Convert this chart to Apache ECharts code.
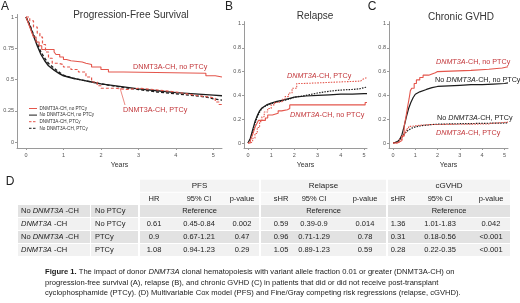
<!DOCTYPE html>
<html><head><meta charset="utf-8">
<script src="https://cdn.jsdelivr.net/npm/echarts@6/dist/echarts.min.js"></script>
<style>html,body{margin:0;padding:0;background:#fff}#c{width:520px;height:303px}</style>
</head><body><div id="c"></div>
<script>
// ---------- tick values ----------
const yearTicks = [0, 1, 2, 3, 4, 5];
const pfsTicks = [0, 0.25, 0.5, 0.75, 1];
const cifTicks = [0, 0.2, 0.4, 0.6, 0.8, 1];

// ---------- A: Progression-free survival ----------
const pfsDnmtNoPtcy = [[0,1],[0.05,0.96],[0.1,0.92],[0.15,0.88],[0.2,0.84],[0.27,0.8],[0.35,0.77],[0.42,0.74],[0.75,0.72],[0.8,0.7],[0.9,0.68],[1.0,0.66],[1.08,0.65],[1.2,0.64],[1.5,0.63],[1.6,0.62],[1.75,0.6],[2.0,0.58],[2.2,0.56],[2.6,0.55],[4.8,0.53],[5.05,0.52],[5.23,0.52]];
const pfsNoDnmtNoPtcy = [[0,1],[0.1,0.93],[0.2,0.85],[0.3,0.77],[0.4,0.7],[0.5,0.65],[0.6,0.61],[0.75,0.575],[0.9,0.545],[1.0,0.53],[1.25,0.51],[1.5,0.495],[1.75,0.48],[2.0,0.465],[2.5,0.445],[3.0,0.425],[3.5,0.41],[4.0,0.395],[4.5,0.385],[5.0,0.375],[5.23,0.37]];
const pfsDnmtPtcy = [[0,1],[0.1,0.97],[0.2,0.92],[0.3,0.87],[0.37,0.84],[0.44,0.78],[0.52,0.72],[0.6,0.67],[0.7,0.63],[0.85,0.62],[1.0,0.6],[1.2,0.58],[1.4,0.56],[1.6,0.52],[1.75,0.48],[1.9,0.45],[2.0,0.43],[2.4,0.42],[2.7,0.43],[3.0,0.42],[3.4,0.41],[3.7,0.4],[4.0,0.385],[4.3,0.37],[4.6,0.36],[4.9,0.35],[5.05,0.32],[5.15,0.3],[5.23,0.3]];
const pfsNoDnmtPtcy = [[0,1],[0.1,0.94],[0.2,0.86],[0.3,0.79],[0.4,0.72],[0.5,0.67],[0.6,0.63],[0.75,0.59],[0.9,0.555],[1.0,0.535],[1.25,0.51],[1.5,0.495],[1.75,0.48],[2.0,0.465],[2.5,0.44],[3.0,0.42],[3.5,0.4],[4.0,0.385],[4.5,0.37],[4.8,0.36],[5.0,0.345],[5.23,0.335]];

// ---------- B: Relapse ----------
const relDnmtNoPtcy = [[0,0],[0.1,0.02],[0.18,0.06],[0.25,0.1],[0.32,0.14],[0.4,0.17],[0.45,0.19],[0.75,0.21],[0.85,0.235],[1.05,0.25],[1.3,0.27],[1.45,0.28],[1.7,0.29],[1.8,0.32],[5.05,0.34],[5.13,0.34]];
const relNoDnmtNoPtcy = [[0,0],[0.1,0.04],[0.2,0.11],[0.3,0.18],[0.4,0.23],[0.5,0.27],[0.6,0.295],[0.8,0.32],[1.0,0.335],[1.25,0.35],[1.5,0.36],[1.8,0.375],[2.0,0.385],[2.5,0.395],[3.0,0.4],[3.5,0.405],[4.0,0.41],[4.5,0.41],[5.0,0.415],[5.13,0.415]];
const relDnmtPtcy = [[0,0],[0.1,0.01],[0.2,0.04],[0.3,0.08],[0.4,0.13],[0.5,0.18],[0.6,0.22],[0.7,0.26],[0.85,0.29],[1.0,0.32],[1.15,0.34],[1.3,0.35],[1.5,0.37],[1.6,0.39],[1.75,0.42],[1.9,0.46],[2.1,0.5],[2.4,0.51],[3.6,0.52],[4.85,0.535],[4.95,0.55],[5.13,0.55]];
const relNoDnmtPtcy = [[0,0],[0.1,0.03],[0.2,0.09],[0.3,0.16],[0.4,0.22],[0.5,0.26],[0.6,0.29],[0.8,0.315],[1.0,0.33],[1.25,0.345],[1.5,0.355],[1.8,0.37],[2.0,0.385],[2.5,0.4],[3.0,0.42],[3.5,0.435],[4.0,0.445],[4.5,0.45],[4.8,0.455],[5.0,0.465],[5.13,0.47]];

// ---------- C: Chronic GVHD ----------
const gvhdDnmtNoPtcy = [[0,0],[0.2,0.01],[0.3,0.02],[0.4,0.06],[0.5,0.14],[0.58,0.22],[0.65,0.3],[0.72,0.37],[0.78,0.44],[0.84,0.46],[0.95,0.5],[1.05,0.53],[1.2,0.55],[1.35,0.57],[1.6,0.58],[1.75,0.59],[1.9,0.6],[2.0,0.61],[3.5,0.62],[4.3,0.63],[4.9,0.64],[5.16,0.64]];
const gvhdNoDnmtNoPtcy = [[0,0],[0.2,0.01],[0.3,0.03],[0.4,0.07],[0.5,0.14],[0.6,0.22],[0.7,0.29],[0.8,0.34],[0.9,0.38],[1.0,0.41],[1.2,0.43],[1.5,0.45],[1.75,0.465],[2.0,0.475],[2.5,0.48],[3.0,0.485],[3.5,0.49],[4.0,0.49],[4.5,0.495],[5.0,0.5],[5.16,0.505]];
const gvhdDnmtPtcy = [[0,0],[0.15,0.01],[0.3,0.03],[0.4,0.06],[0.5,0.09],[0.6,0.12],[0.7,0.14],[0.85,0.145],[1.0,0.15],[1.3,0.155],[1.7,0.16],[4.3,0.165],[4.4,0.175],[5.16,0.175]];
const gvhdNoDnmtPtcy = [[0,0],[0.2,0.01],[0.3,0.03],[0.4,0.05],[0.5,0.075],[0.6,0.095],[0.7,0.11],[0.85,0.125],[1.0,0.135],[1.25,0.145],[1.5,0.15],[1.75,0.155],[2.0,0.158],[3.0,0.162],[4.0,0.165],[5.0,0.168],[5.16,0.17]];

// ---------- D: table ----------
const groupNames = ['PFS', 'Relapse', 'cGVHD'];
const pfsHeads = ['HR', '95% CI', 'p-value'];
const relHeads = ['sHR', '95% CI', 'p-value'];
const gvhdHeads = ['sHR', '95% CI', 'p-value'];
const rowGroup = ['No {i|DNMT3A} -CH', '{i|DNMT3A} -CH', 'No {i|DNMT3A} -CH', '{i|DNMT3A} -CH'];
const rowPtcy = ['No PTCy', 'No PTCy', 'PTCy', 'PTCy'];
const pfsRows = [null, ['0.61','0.45-0.84','0.002'], ['0.9','0.67-1.21','0.47'], ['1.08','0.94-1.23','0.29']];
const relRows = [null, ['0.59','0.39-0.9','0.014'], ['0.96','0.71-1.29','0.78'], ['1.05','0.89-1.23','0.59']];
const gvhdRows = [null, ['1.36','1.01-1.83','0.042'], ['0.31','0.18-0.56','<0.001'], ['0.28','0.22-0.35','<0.001']];
const refText = 'Reference';

const captionLines = [
  '{b|Figure 1.} The impact of donor {i|DNMT3A} clonal hematopoiesis with variant allele fraction 0.01 or greater (DNMT3A-CH) on',
  'progression-free survival (A), relapse (B), and chronic GVHD (C) in patients that did or did not receive post-transplant',
  'cyclophosphamide (PTCy). (D) Multivariable Cox model (PFS) and Fine/Gray competing risk regressions (relapse, cGVHD).'
];

// ---------- styles ----------
const F = '"Liberation Sans", Arial, sans-serif';
const RED = '#e4564c';
const RED_T = '#c2363a';
const BLK = '#1c1c1c';
const AX = '#9a9a9a';

function xAx(gi, min, max) {
  return {
    gridIndex: gi, type: 'value', min: min, max: max,
    name: 'Years', nameLocation: 'middle', nameGap: 14,
    nameTextStyle: { fontSize: 7, color: '#333', fontFamily: F },
    axisLine: { show: true, onZero: false, lineStyle: { color: AX, width: 1 } },
    axisTick: { show: true, length: 2, customValues: yearTicks, lineStyle: { color: AX } },
    axisLabel: { customValues: yearTicks, fontSize: 5.5, color: '#555', margin: 4, fontFamily: F },
    splitLine: { show: false }
  };
}
function yAx(gi, min, max, ticks) {
  return {
    gridIndex: gi, type: 'value', min: min, max: max,
    axisLine: { show: true, onZero: false, lineStyle: { color: AX, width: 1 } },
    axisTick: { show: true, length: 2, customValues: ticks, lineStyle: { color: AX } },
    axisLabel: { customValues: ticks, fontSize: 5.5, color: '#555', margin: 3, fontFamily: F },
    splitLine: { show: false }
  };
}
function ser(data, gi, color, width, dash, step, z) {
  return {
    type: 'line', data: data, xAxisIndex: gi, yAxisIndex: gi, symbol: 'none',
    step: step ? 'end' : false, silent: true, z: z || 2,
    lineStyle: { color: color, width: width, type: dash || 'solid' }
  };
}

const g = [];
function txt(x, y, text, size, color, opts) {
  opts = opts || {};
  g.push({
    type: 'text', x: x, y: y, silent: true, z: 10,
    style: Object.assign({
      text: text, fontSize: size, fontFamily: F, fill: color,
      align: opts.align || 'left', verticalAlign: 'middle',
      fontWeight: opts.bold ? 'bold' : 'normal',
      rich: {
        i: { fontStyle: 'italic', fontSize: size, fontFamily: F, fill: color },
        b: { fontWeight: 'bold', fontSize: size, fontFamily: F, fill: color }
      }
    }, opts.style || {})
  });
}
function rect(x, y, w, h, fill) {
  g.push({ type: 'rect', silent: true, z: 1, shape: { x: x, y: y, width: w, height: h }, style: { fill: fill } });
}
function line(x1, y1, x2, y2, color, width, dash) {
  g.push({ type: 'line', silent: true, z: 5, shape: { x1: x1, y1: y1, x2: x2, y2: y2 }, style: { stroke: color, lineWidth: width, lineDash: dash || null } });
}

// panel letters and titles
txt(5, 7, 'A', 12, '#222', { align: 'center' });
txt(229, 6.5, 'B', 12, '#222', { align: 'center' });
txt(372, 7, 'C', 12, '#222', { align: 'center' });
txt(10, 182, 'D', 12, '#222', { align: 'center' });
txt(131, 15, 'Progression-Free Survival', 10, '#333', { align: 'center' });
txt(315, 16, 'Relapse', 10, '#333', { align: 'center' });
txt(461, 17, 'Chronic GVHD', 10, '#333', { align: 'center' });

// curve annotations
const LF = 7.2;
txt(133, 67.5, 'DNMT3A-CH, no PTCy', LF, RED_T);
txt(123, 110, 'DNMT3A-CH, PTCy', LF, RED_T);
line(120, 88, 125, 105, RED, 0.7);
txt(287, 76, '{i|DNMT3A}-CH, PTCy', LF, RED_T);
txt(290, 115, '{i|DNMT3A}-CH, no PTCy', LF, RED_T);
txt(436, 62, '{i|DNMT3A}-CH, no PTCy', LF, RED_T);
txt(435, 80, 'No {i|DNMT3A}-CH, no PTCy', LF, '#222');
txt(437, 118, 'No {i|DNMT3A}-CH, PTCy', LF, '#222');
txt(436, 133, '{i|DNMT3A}-CH, PTCy', LF, RED_T);

// legend of panel A
const legendItems = [
  ['DNMT3A-CH, no PTCy', RED, null],
  ['No DNMT3A-CH, no PTCy', BLK, null],
  ['DNMT3A-CH, PTCy', RED, [2.5, 1.5]],
  ['No DNMT3A-CH, PTCy', BLK, [2.5, 1.5]]
];
legendItems.forEach(function (it, k) {
  const y = 108.5 + k * 6.6;
  line(29, y, 37, y, it[1], 1, it[2]);
  txt(39.5, y, it[0], 4.6, '#333');
});

// ---------- table ----------
const rowY = [186, 198.5, 211, 224, 237, 250];
const rowH = 12;
const blocks = [
  { x: 140, w: 119, cols: [154, 199, 242], heads: pfsHeads, rows: pfsRows, name: groupNames[0] },
  { x: 261, w: 125, cols: [281, 314, 365], heads: relHeads, rows: relRows, name: groupNames[1] },
  { x: 388, w: 122, cols: [398, 440, 491], heads: gvhdHeads, rows: gvhdRows, name: groupNames[2] }
];
const fills = ['#f3f3f3', '#f7f7f7', '#e2e2e2', '#f1f1f1', '#e2e2e2', '#f1f1f1'];
const TF = 7.5;
blocks.forEach(function (b) {
  rect(b.x, rowY[0] - 6.3, b.w, rowH, fills[0]);
  rect(b.x, rowY[1] - 5.8, b.w, rowH, fills[1]);
  txt(b.x + b.w / 2, rowY[0], b.name, 8, '#222', { align: 'center' });
  b.heads.forEach(function (h, j) { txt(b.cols[j], rowY[1], h, TF, '#222', { align: 'center' }); });
  b.rows.forEach(function (r, i) {
    const yc = rowY[2 + i];
    rect(b.x, yc - 6, b.w, rowH, fills[2 + i]);
    if (r === null) {
      txt(b.x + b.w / 2, yc, refText, TF, '#222', { align: 'center' });
    } else {
      r.forEach(function (v, j) { txt(b.cols[j], yc, v, TF, '#222', { align: 'center' }); });
    }
  });
});
rowGroup.forEach(function (lab, i) {
  const yc = rowY[2 + i];
  rect(18, yc - 6, 72, rowH, fills[2 + i]);
  rect(91, yc - 6, 47, rowH, fills[2 + i]);
  txt(21, yc, lab, TF, '#222');
  txt(95, yc, rowPtcy[i], TF, '#222');
});

// caption
captionLines.forEach(function (c, k) {
  txt(45, 272 + k * 10.5, c, 7.6, '#1a1a1a');
});

const option = {
  animation: false,
  backgroundColor: '#fff',
  grid: [
    { left: 17, top: 14.5, width: 205, height: 133.5, containLabel: false, outerBoundsMode: 'none' },
    { left: 244, top: 21.6, width: 123, height: 126.4, containLabel: false, outerBoundsMode: 'none' },
    { left: 389, top: 21.6, width: 119, height: 126.4, containLabel: false, outerBoundsMode: 'none' }
  ],
  xAxis: [xAx(0, -0.24, 5.23), xAx(1, -0.172, 5.13), xAx(2, -0.18, 5.16)],
  yAxis: [yAx(0, -0.048, 1.02, pfsTicks), yAx(1, -0.042, 1.02, cifTicks), yAx(2, -0.042, 1.02, cifTicks)],
  series: [
    ser(pfsNoDnmtNoPtcy, 0, BLK, 1.4, 'solid', false, 2),
    ser(pfsNoDnmtPtcy, 0, BLK, 1.3, [3, 2], false, 3),
    ser(pfsDnmtNoPtcy, 0, RED, 1.1, 'solid', true, 4),
    ser(pfsDnmtPtcy, 0, RED, 1.2, [3, 2], true, 4),
    ser(relNoDnmtNoPtcy, 1, BLK, 1.2, 'solid', false, 2),
    ser(relNoDnmtPtcy, 1, BLK, 1.2, [1.5, 1.2], false, 3),
    ser(relDnmtNoPtcy, 1, RED, 1.1, 'solid', true, 4),
    ser(relDnmtPtcy, 1, RED, 1.1, [1.5, 1.2], true, 4),
    ser(gvhdNoDnmtNoPtcy, 2, BLK, 1.2, 'solid', false, 2),
    ser(gvhdNoDnmtPtcy, 2, BLK, 1.2, [1.5, 1.2], false, 3),
    ser(gvhdDnmtNoPtcy, 2, RED, 1.1, 'solid', true, 4),
    ser(gvhdDnmtPtcy, 2, RED, 1.1, [1.5, 1.2], true, 4)
  ],
  graphic: g
};
const chart = echarts.init(document.getElementById('c'), null, { renderer: 'canvas' });
chart.setOption(option);
</script></body></html>
